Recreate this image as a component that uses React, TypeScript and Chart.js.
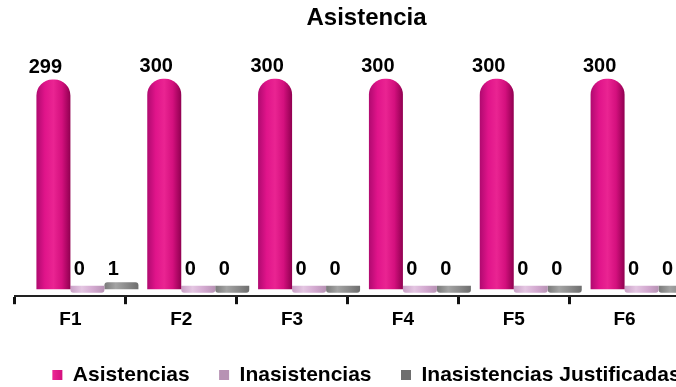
import React, { useEffect, useRef } from "react";
import { Chart, registerables } from "chart.js";

Chart.register(...registerables);

const FONT = '"Liberation Sans", Arial, Helvetica, sans-serif';

const TITLE = "Asistencia";
const CATEGORIES = ["F1", "F2", "F3", "F4", "F5", "F6"];
const ASISTENCIAS = [299, 300, 300, 300, 300, 300];
const INASISTENCIAS = [0, 0, 0, 0, 0, 0];
const JUSTIFICADAS = [1, 0, 0, 0, 0, 0];
const SERIES_NAMES = ["Asistencias", "Inasistencias", "Inasistencias Justificadas"];
const SPACER = "__spacer__";
const SPACER_VALUES = [null, null, null, null, null, null];

const CAT_PCT = 1.227;
const CANVAS_W = 733;
const CANVAS_H = 387;

function barGradient(stops: string[]) {
  return (c: any) => {
    if (c.type !== "data") return stops[Math.floor(stops.length / 2)];
    const xs = c.chart.scales.x;
    if (!xs || !xs.width) return stops[1];
    const n = c.chart.data.labels.length;
    const cw = xs.width / n;
    const s = (cw * CAT_PCT) / 4;
    const cx = xs.getPixelForValue(c.dataIndex) - 2 * s + (c.datasetIndex + 0.5) * s;
    const g = c.chart.ctx.createLinearGradient(cx - s / 2, 0, cx + s / 2, 0);
    stops.forEach((col, i) => g.addColorStop(i / (stops.length - 1), col));
    return g;
  };
}

const valueLabels = {
  id: "valueLabels",
  afterDatasetsDraw(chart: any) {
    const ctx = chart.ctx;
    const zero = chart.scales.y.getPixelForValue(0);
    ctx.save();
    ctx.font = `bold 20px ${FONT}`;
    ctx.fillStyle = "#000";
    ctx.textAlign = "center";
    ctx.textBaseline = "alphabetic";
    chart.data.datasets.forEach((ds: any, di: number) => {
      if (ds.label === SPACER) return;
      const meta = chart.getDatasetMeta(di);
      meta.data.forEach((el: any, i: number) => {
        const v = ds.data[i];
        if (v === null || v === undefined) return;
        const top = Math.min(el.y, el.base, zero - 7);
        ctx.fillText(String(v), el.x - 8, top - 7);
      });
    });
    ctx.restore();
  },
};

export default function App() {
  const ref = useRef<HTMLCanvasElement | null>(null);

  useEffect(() => {
    if (!ref.current) return;
    Chart.defaults.font.family = FONT;
    const chart = new Chart(ref.current, {
      type: "bar",
      data: {
        labels: CATEGORIES,
        datasets: [
          {
            label: SPACER,
            data: SPACER_VALUES,
            backgroundColor: "rgba(0,0,0,0)",
          },
          {
            label: SERIES_NAMES[0],
            data: ASISTENCIAS,
            backgroundColor: barGradient(["#B00A70", "#E0148A", "#EA2492", "#D4107E", "#900050"]),
            borderWidth: 0,
            borderRadius: { topLeft: 16, topRight: 16, bottomLeft: 0, bottomRight: 0 },
            borderSkipped: "bottom",
          },
          {
            label: SERIES_NAMES[1],
            data: INASISTENCIAS,
            backgroundColor: barGradient(["#C9A0C6", "#E4C6E2", "#D3A9D0", "#B792B4"]),
            borderWidth: 0,
            minBarLength: 7,
            borderRadius: 3,
          },
          {
            label: SERIES_NAMES[2],
            data: JUSTIFICADAS,
            backgroundColor: barGradient(["#7A7A7A", "#A4A4A4", "#8A8A8A", "#6E6E6E"]),
            borderWidth: 0,
            minBarLength: 7,
            borderRadius: 3,
          },
        ],
      },
      options: {
        responsive: false,
        animation: false,
        devicePixelRatio: 1,
        layout: { padding: 0 },
        datasets: {
          bar: {
            categoryPercentage: CAT_PCT,
            barPercentage: 1,
            clip: false as any,
          },
        },
        plugins: {
          title: {
            display: true,
            text: TITLE,
            color: "#000",
            font: { size: 24, weight: "bold", family: FONT },
            padding: { top: 4, bottom: 46 },
          },
          legend: {
            display: true,
            position: "bottom",
            maxHeight: 52,
            labels: {
              color: "#000",
              font: { size: 21, weight: "bold", family: FONT },
              boxWidth: 10,
              boxHeight: 10,
              padding: 29.5,
              filter: (item: any) => item.text !== SPACER,
            },
          },
          tooltip: { enabled: false },
        },
        scales: {
          x: {
            type: "category",
            offset: true,
            grid: {
              display: true,
              offset: true,
              drawOnChartArea: false,
              drawTicks: true,
              tickLength: 8,
              tickWidth: 3,
              tickColor: "#111",
              color: "#111",
            },
            border: { display: true, color: "#222", width: 2 },
            ticks: {
              color: "#000",
              font: { size: 19, weight: "bold", family: FONT },
              padding: 4,
              maxRotation: 0,
              autoSkip: false,
            },
          },
          y: {
            type: "linear",
            position: "left",
            min: -10,
            max: 300,
            display: true,
            grid: { display: false },
            border: { display: false },
            ticks: { display: false },
            afterFit: (scale: any) => {
              scale.width = 15;
            },
          },
          y2: {
            type: "linear",
            position: "right",
            display: true,
            grid: { display: false },
            border: { display: false },
            ticks: { display: false },
            afterFit: (scale: any) => {
              scale.width = 53;
            },
          },
        },
      },
      plugins: [valueLabels],
    } as any);
    return () => chart.destroy();
  }, []);

  return (
    <div
      style={{
        position: "fixed",
        left: 0,
        top: 0,
        width: 676,
        height: 387,
        overflow: "hidden",
        background: "#fff",
      }}
    >
      <canvas
        ref={ref}
        width={CANVAS_W}
        height={CANVAS_H}
        style={{ display: "block", width: CANVAS_W, height: CANVAS_H }}
      />
    </div>
  );
}
